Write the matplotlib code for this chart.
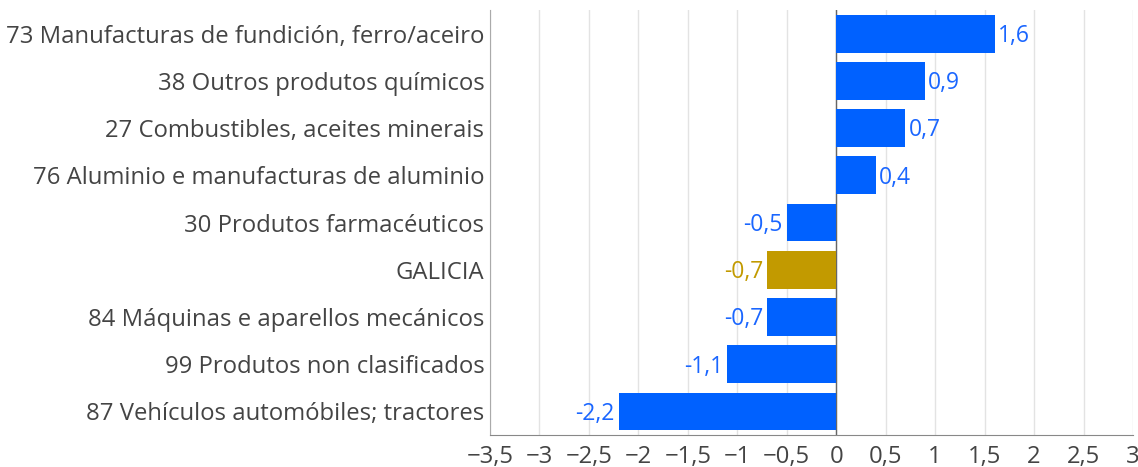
import numpy as np
import matplotlib.pyplot as plt

plt.rcParams['font.family'] = ['Open Sans', 'DejaVu Sans']

# data (top to bottom)
categories = [
    '73 Manufacturas de fundición, ferro/aceiro',
    '38 Outros produtos químicos',
    '27 Combustibles, aceites minerais',
    '76 Aluminio e manufacturas de aluminio',
    '30 Produtos farmacéuticos',
    'GALICIA',
    '84 Máquinas e aparellos mecánicos',
    '99 Produtos non clasificados',
    '87 Vehículos automóbiles; tractores',
]
values = [1.6, 0.9, 0.7, 0.4, -0.5, -0.7, -0.7, -1.1, -2.2]
xticks = [-3.5, -3, -2.5, -2, -1.5, -1, -0.5, 0, 0.5, 1, 1.5, 2, 2.5, 3]

blue = '#0061ff'
gold = '#c29a00'
colors = [gold if c == 'GALICIA' else blue for c in categories]
label_colors = ['#c29a00' if c == 'GALICIA' else '#1a66ff' for c in categories]

fig = plt.figure(figsize=(11.38, 4.67), dpi=100)
ax = fig.add_axes([490/1138, 1 - 435/467, (1133-490)/1138, 425/467])

y = np.arange(len(categories))
ax.barh(y, values, height=0.8, color=colors, zorder=3)

for yi, v, lc in zip(y, values, label_colors):
    txt = ('%.1f' % v).replace('.', ',')
    if v >= 0:
        ax.text(v + 0.03, yi + 0.05, txt, va='center', ha='left', color=lc, fontsize=16.5)
    else:
        ax.text(v - 0.04, yi + 0.05, txt, va='center', ha='right', color=lc, fontsize=16.5)

ax.set_ylim(len(categories) - 0.5, -0.5)
ax.set_xlim(-3.5, 3)
ax.set_yticks(y)
ax.set_yticklabels(categories, fontsize=17.2, color='#444444')
ax.set_xticks(xticks)
ax.set_xticklabels([('%g' % t).replace('.', ',').replace('-', '\u2212') for t in xticks],
                   fontsize=17.2, color='#444444')
ax.tick_params(axis='y', length=0, pad=4)
ax.tick_params(axis='x', length=0, pad=7)

ax.grid(axis='x', color='#e3e3e3', linewidth=1, zorder=0)
ax.axvline(0, color='#666666', linewidth=1, zorder=2)
for s in ['top', 'right']:
    ax.spines[s].set_visible(False)
ax.spines['left'].set_color('#aaaaaa')
ax.spines['bottom'].set_color('#888888')

fig.savefig('out.png', dpi=100)
